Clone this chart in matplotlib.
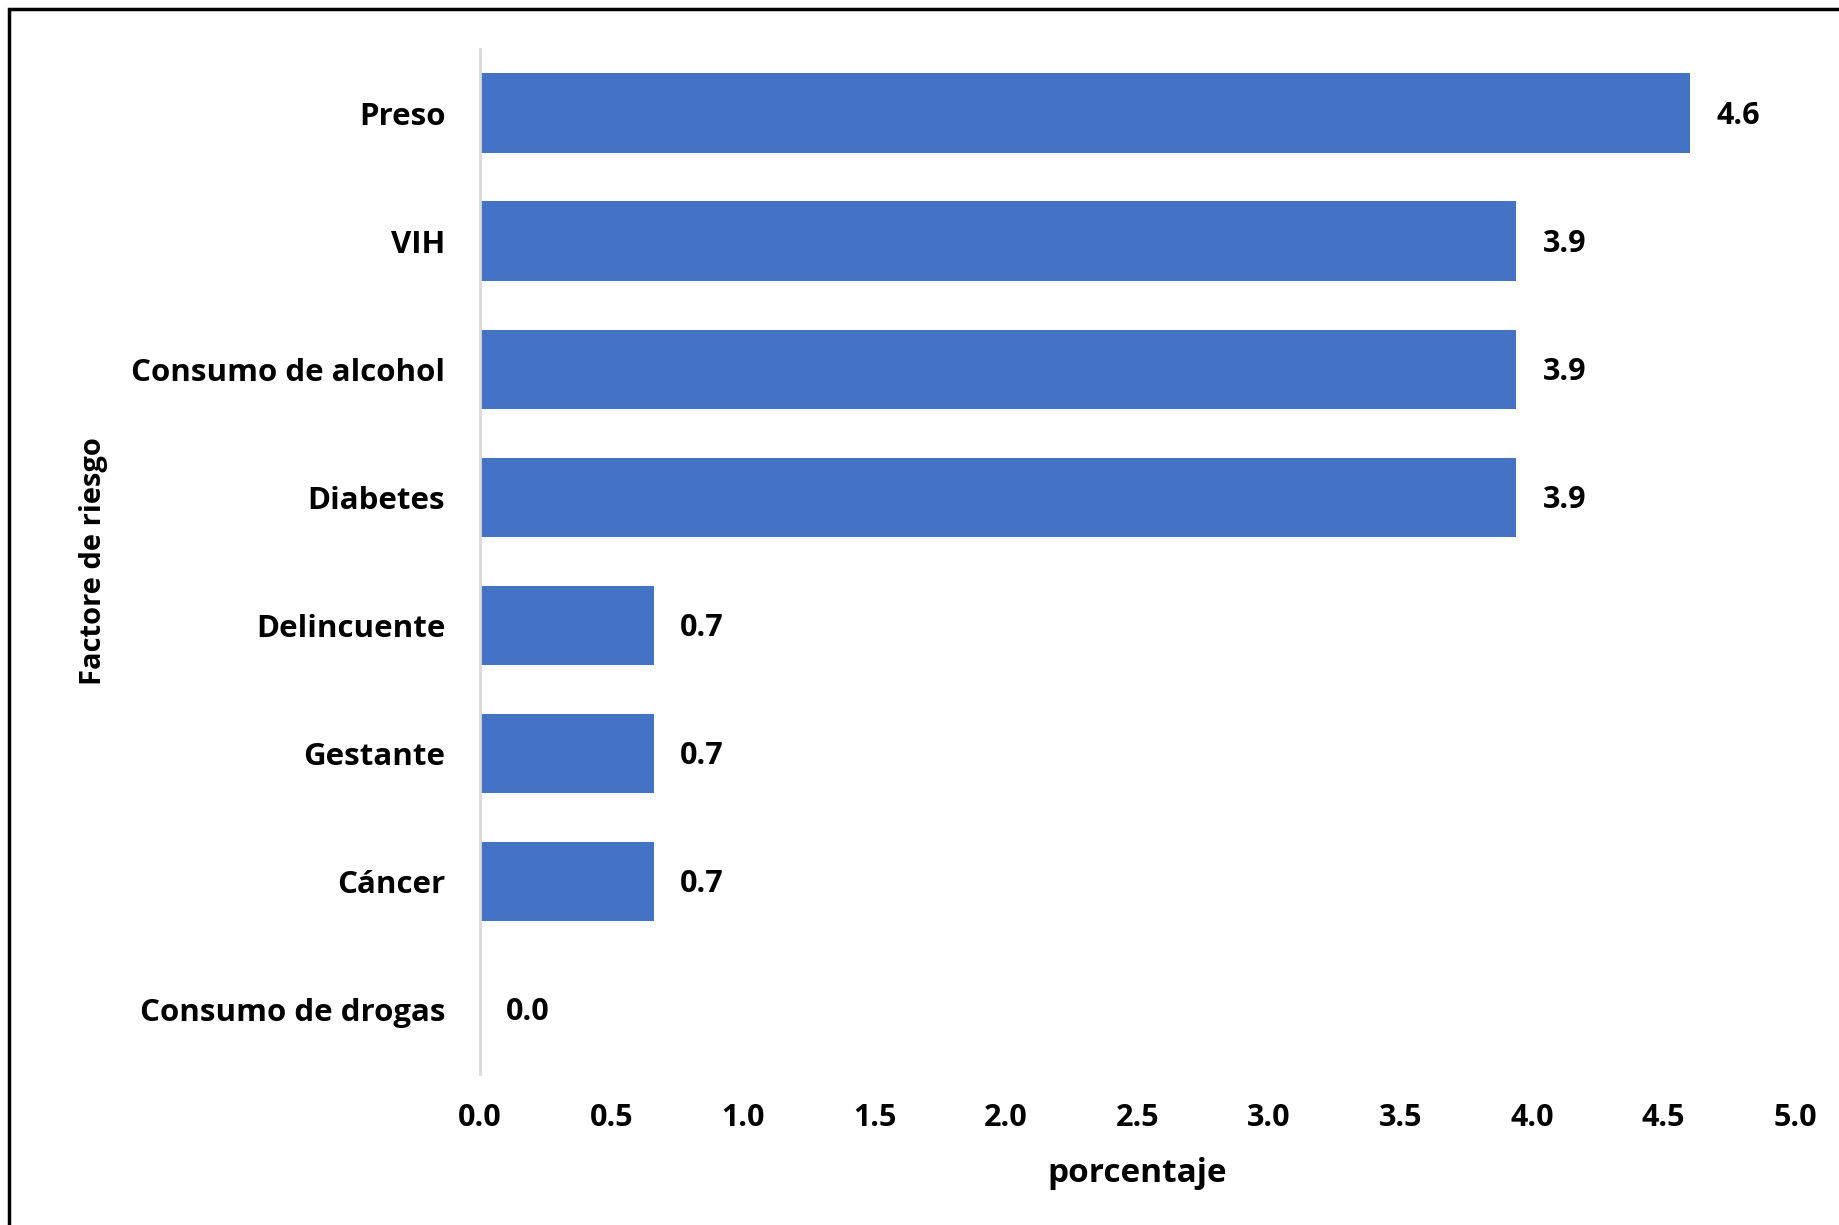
import matplotlib.pyplot as plt
from matplotlib.patches import Rectangle

factores = ["Preso", "VIH", "Consumo de alcohol", "Diabetes", "Delincuente",
            "Gestante", "Cáncer", "Consumo de drogas"]
porcentaje = [4.6, 3.94, 3.94, 3.94, 0.66, 0.66, 0.66, 0.0]
xticks = [0.0, 0.5, 1.0, 1.5, 2.0, 2.5, 3.0, 3.5, 4.0, 4.5, 5.0]

plt.rcParams['font.family'] = ['Open Sans', 'DejaVu Sans']
plt.rcParams['font.weight'] = 'bold'

fig = plt.figure(figsize=(18.4, 12.25), dpi=100)
ax = fig.add_axes([0.2609, 0.1233, 0.7146, 0.8367])

pos = list(range(len(factores)))[::-1]
ax.barh(pos, porcentaje, height=0.62, color="#4472C4")
for y, v in zip(pos, porcentaje):
    ax.text(v + 0.1, y - 0.02, f"{v:.1f}", va="center", ha="left", fontsize=22, fontweight="bold")

ax.set_xlim(0, 5.0)
ax.set_ylim(-0.5, 7.5)
ax.set_yticks(pos)
ax.set_yticklabels(factores, fontsize=22.5, fontweight="bold")
ax.set_xticks(xticks)
ax.set_xticklabels([f"{t:.1f}" for t in xticks], fontsize=22, fontweight="bold")
ax.tick_params(length=0)
ax.tick_params(axis="y", pad=25)
ax.tick_params(axis="x", pad=21)
for s in ["top", "right", "bottom"]:
    ax.spines[s].set_visible(False)
ax.spines["left"].set_color("#D9D9D9")
ax.spines["left"].set_linewidth(2)

ax.set_xlabel("porcentaje", fontsize=24, fontweight="bold", labelpad=17)
ax.set_ylabel("Factore de riesgo", fontsize=21, fontweight="bold")
ax.yaxis.set_label_coords(-0.283, 0.5)

fig.patches.append(Rectangle((0.005, -0.05), 1.2, 0.0427 + 1.0, transform=fig.transFigure,
                             fill=False, edgecolor="black", linewidth=2.5))

fig.savefig("out.png", dpi=100)
